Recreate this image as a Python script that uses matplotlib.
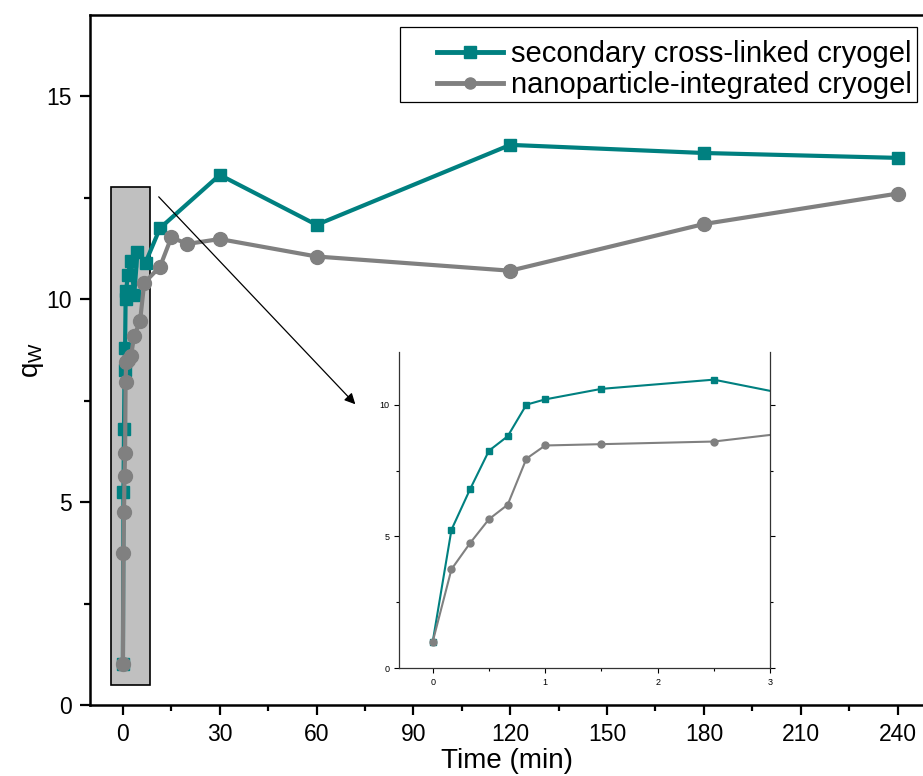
import numpy as np
import matplotlib.pyplot as plt
from matplotlib.patches import Rectangle

plt.rcParams['font.family'] = ['Liberation Sans', 'DejaVu Sans']

# time in minutes
t_sec = [0, 1/6, 2/6, 3/6, 4/6, 5/6, 1, 1.5, 2.5, 3.5, 4.5, 7, 11.5, 30, 60, 120, 180, 240]
q_sec = [1.0, 5.25, 6.8, 8.25, 8.8, 10.0, 10.2, 10.6, 10.95, 10.1, 11.15, 10.9, 11.75,
         13.06, 11.83, 13.8, 13.6, 13.48]

t_nano = [0, 1/6, 2/6, 3/6, 4/6, 5/6, 1, 1.5, 2.5, 3.5, 5.3, 6.6, 11.5, 15, 20, 30, 60, 120, 180, 240]
q_nano = [1.0, 3.75, 4.75, 5.65, 6.2, 7.95, 8.45, 8.5, 8.6, 9.1, 9.45, 10.4, 10.8, 11.52,
          11.36, 11.48, 11.05, 10.7, 11.85, 12.6]

teal = '#008080'
grey = '#808080'

fig = plt.figure(figsize=(9.23, 7.76), dpi=100)
ax = fig.add_axes([90/923, 71/776, 834/923, 690/776])

ax.add_patch(Rectangle((-3.7, 0.49), 12.1, 12.28, facecolor='#c0c0c0', edgecolor='black',
                       linewidth=1.2, zorder=1))
l1, = ax.plot(t_sec, q_sec, '-s', color=teal, lw=3, ms=9, zorder=3)
l2, = ax.plot(t_nano, q_nano, '-o', color=grey, lw=3, ms=10, zorder=3)
ax.annotate('', xy=(72.6, 7.36), xytext=(10.5, 12.57),
            arrowprops=dict(arrowstyle='-|>', color='black', lw=0.9, mutation_scale=16))

ax.set_xlim(-10.2, 248.2)
ax.set_ylim(0, 17)
ax.set_xticks(np.arange(0, 241, 30))
ax.set_xticks(np.arange(15, 241, 30), minor=True)
ax.set_yticks([0, 5, 10, 15])
ax.set_yticks([2.5, 7.5, 12.5], minor=True)
ax.tick_params(which='major', length=7.2, width=1.6, labelsize=16.5, direction='out', pad=6)
ax.tick_params(which='minor', length=4, width=1.6, direction='out')
for s in ax.spines.values():
    s.set_linewidth(1.8)
ax.set_xlabel('Time (min)', fontsize=20, labelpad=1)
ax.set_ylabel('q$_\\mathregular{W}$', fontsize=20, labelpad=0)

# legend box drawn by hand, entries placed inside
ax.add_patch(Rectangle((0.3717, 0.8739), 0.6199, 0.1087, transform=ax.transAxes,
                       facecolor='white', edgecolor='black', linewidth=0.9, zorder=4))
h1, = ax.plot([], [], '-s', color=teal, lw=3.5, ms=8)
h2, = ax.plot([], [], '-o', color=grey, lw=3.5, ms=8)
leg = ax.legend([h1, h2], ['secondary cross-linked cryogel', 'nanoparticle-integrated cryogel'],
                loc='center left', bbox_to_anchor=((437 - 90) / 834, (705 - 69.5) / 690),
                fontsize=21, frameon=False, handlelength=2.25, handletextpad=0.3,
                labelspacing=0.12, borderpad=0, borderaxespad=0)
leg.set_zorder(5)

# inset
axi = fig.add_axes([399/923, (776-668)/776, 371/923, 316/776])
axi.plot(t_sec, q_sec, '-s', color=teal, lw=1.5, ms=4.5)
axi.plot(t_nano, q_nano, '-o', color=grey, lw=1.5, ms=5)
axi.set_xlim(-0.3, 3)
axi.set_ylim(0, 12)
axi.set_xticks([0, 1, 2, 3])
axi.set_xticks([0.5, 1.5, 2.5], minor=True)
axi.set_yticks([0, 5, 10])
axi.set_yticks([2.5, 7.5], minor=True)
axi.tick_params(which='both', labelsize=6.5, width=0.8, direction='out', right=True)
axi.tick_params(which='major', length=3.5)
axi.tick_params(which='minor', length=2)
axi.spines['top'].set_visible(False)
for s in ['left', 'bottom', 'right']:
    axi.spines[s].set_linewidth(0.9)
    axi.spines[s].set_color('#333333')

fig.savefig('out.png', dpi=100)
